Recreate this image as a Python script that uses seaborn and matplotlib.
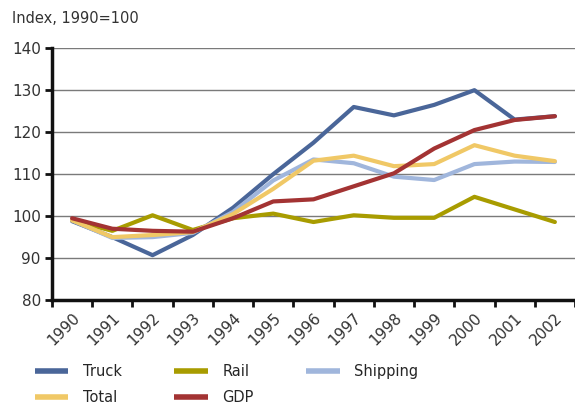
import pandas as pd
import matplotlib.pyplot as plt
import seaborn as sns

# Datos (indice, 1990=100)
years = ['1990', '1991', '1992', '1993', '1994', '1995', '1996',
         '1997', '1998', '1999', '2000', '2001', '2002']
truck = [98.8, 95.0, 90.7, 95.5, 102.0, 110.0, 117.5, 126.0, 124.0, 126.5, 130.0, 123.0, 123.8]
rail = [99.0, 96.5, 100.2, 96.7, 99.5, 100.6, 98.6, 100.2, 99.6, 99.6, 104.6, 101.6, 98.6]
shipping = [99.0, 94.8, 95.0, 96.0, 101.0, 108.5, 113.5, 112.6, 109.4, 108.6, 112.4, 113.0, 112.9]
total = [99.0, 95.0, 95.5, 96.2, 100.5, 106.5, 113.2, 114.4, 111.9, 112.4, 116.9, 114.4, 113.1]
gdp = [99.5, 97.0, 96.5, 96.3, 99.5, 103.5, 104.0, 107.1, 110.2, 116.1, 120.5, 122.9, 123.8]

series = {'Truck': truck, 'Rail': rail, 'Shipping': shipping, 'Total': total, 'GDP': gdp}
colores = {'Truck': '#4a6699', 'Rail': '#a89c00', 'Shipping': '#a0b6dc',
           'Total': '#f0c866', 'GDP': '#a33333'}

df = pd.concat([pd.DataFrame({'Año': years, 'Valor': v, 'Serie': k}) for k, v in series.items()])

sns.set_style('white')
plt.rcParams['font.family'] = ['DejaVu Sans']

fig = plt.figure(figsize=(5.75, 4.05), dpi=100)
ax = fig.add_axes([0.0904, 0.259, 0.9096, 0.622])

for nombre in ['Truck', 'Rail', 'Shipping', 'Total', 'GDP']:
    sns.lineplot(data=df[df['Serie'] == nombre], x='Año', y='Valor', color=colores[nombre],
                 linewidth=3, label=nombre, ax=ax, sort=False)

ax.set_ylim(80, 140)
ax.set_yticks(range(80, 141, 10))
ax.set_xlim(-0.5, 12.35)
ax.set_xticks([i - 0.5 for i in range(14)], minor=False)
ax.set_xticklabels([])
ax.set_xticks(range(13), minor=True)
ax.set_xticklabels(years, minor=True, rotation=45, ha='right', rotation_mode='anchor',
                   fontsize=11, color='#333333')
ax.tick_params(axis='x', which='minor', bottom=False, length=0, pad=7)
ax.tick_params(axis='x', which='major', bottom=True, length=5, width=2, color='#111111',
               direction='out')
ax.tick_params(axis='y', left=True, length=5, width=2, color='#111111', direction='out',
               labelsize=11, labelcolor='#333333', pad=3)
ax.set_xlabel('')
ax.set_ylabel('')

ax.yaxis.grid(True, color='#7a7a7a', linewidth=1)
ax.set_axisbelow(True)
for lado in ['top', 'right']:
    ax.spines[lado].set_visible(False)
ax.spines['left'].set_linewidth(2.5)
ax.spines['left'].set_color('#111111')
ax.spines['bottom'].set_linewidth(2.5)
ax.spines['bottom'].set_color('#111111')

fig.text(0.021, 0.955, 'Index, 1990=100', fontsize=10.5, color='#333333', va='center')

# Leyenda en 3 columnas (orden por columnas)
handles, labels = ax.get_legend_handles_labels()
orden = ['Truck', 'Total', 'Rail', 'GDP', 'Shipping']
h = [handles[labels.index(n)] for n in orden]
ax.legend_.remove()
leg = fig.legend(h, orden, loc='upper left', bbox_to_anchor=(0.05, 0.115), ncol=3, frameon=False,
                 fontsize=10.5, handlelength=2.3, handletextpad=1.0, columnspacing=3.6,
                 labelspacing=0.75, borderaxespad=0)
for linea in leg.get_lines():
    linea.set_linewidth(4)
    linea.set_solid_capstyle('butt')

fig.savefig('out.png', dpi=100)
